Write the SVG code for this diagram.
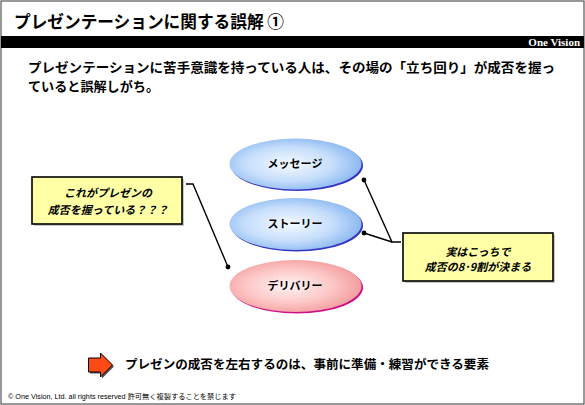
<svg xmlns="http://www.w3.org/2000/svg" width="585" height="405" viewBox="0 0 585 405">
<defs>
<radialGradient id="gb" cx="0.45" cy="0.5" r="0.6">
<stop offset="0" stop-color="#f4f9ff"/>
<stop offset="0.55" stop-color="#c6defb"/>
<stop offset="1" stop-color="#7fb0ef"/>
</radialGradient>
<radialGradient id="gp" cx="0.45" cy="0.5" r="0.6">
<stop offset="0" stop-color="#fff4f4"/>
<stop offset="0.55" stop-color="#fcc6c6"/>
<stop offset="1" stop-color="#f19595"/>
</radialGradient>
<marker id="dot" viewBox="0 0 6 6" refX="3" refY="3" markerWidth="6" markerHeight="6" markerUnits="userSpaceOnUse">
<circle cx="3" cy="3" r="2.4" fill="#000"/>
</marker>
</defs>
<style>
.jp{font-family:"Noto Sans CJK JP","Noto Sans CJK SC",sans-serif;font-weight:bold;fill:#000}
.node{font-size:11px;text-anchor:middle}
.call{font-size:11px;text-anchor:middle;font-style:italic}
.box{fill:#ffffa6;stroke:#000;stroke-width:1.6}
.shadow{fill:#c8c8c8}
.conn{fill:none;stroke:#000;stroke-width:1.4}
</style>
<rect x="0" y="0" width="585" height="405" fill="#fff"/>
<rect x="1" y="1" width="583" height="403" fill="none" stroke="#555" stroke-width="1.2"/>
<g id="header">
<text class="jp" x="14" y="28" font-size="17.5" textLength="270" lengthAdjust="spacingAndGlyphs">プレゼンテーションに関する誤解 ①</text>
<rect x="1" y="36" width="583" height="12" fill="#000"/>
<text x="580" y="46" font-family="Liberation Serif, serif" font-weight="bold" font-size="11" fill="#fff" text-anchor="end">One Vision</text>
</g>
<g id="intro">
<text class="jp" x="28" y="72" font-size="13" textLength="527" lengthAdjust="spacingAndGlyphs">プレゼンテーションに苦手意識を持っている人は、その場の「立ち回り」が成否を握っ</text>
<text class="jp" x="28" y="91" font-size="13" textLength="131" lengthAdjust="spacingAndGlyphs">ていると誤解しがち。</text>
</g>
<g id="connectors">
<polyline class="conn" points="186,184 193,184 228,267" marker-end="url(#dot)"/>
<polyline class="conn" points="401,242 392,242 364,180" marker-end="url(#dot)"/>
<polyline class="conn" points="392,242 364,233" marker-end="url(#dot)"/>
</g>
<g id="node-message">
<ellipse cx="297" cy="165.5" rx="66" ry="25.5" fill="#3535c0"/>
<ellipse cx="295.5" cy="164" rx="66" ry="25.5" fill="url(#gb)"/>
<text class="jp node" x="295" y="168">メッセージ</text>
</g>
<g id="node-story">
<ellipse cx="297" cy="225.5" rx="66" ry="26" fill="#3535c0"/>
<ellipse cx="295.5" cy="224" rx="66" ry="26" fill="url(#gb)"/>
<text class="jp node" x="295" y="228">ストーリー</text>
</g>
<g id="node-delivery">
<ellipse cx="297" cy="287.5" rx="66" ry="26" fill="#cc1188"/>
<ellipse cx="295.5" cy="286" rx="66" ry="26" fill="url(#gp)"/>
<text class="jp node" x="295" y="290">デリバリー</text>
</g>
<g id="callout-left">
<rect class="shadow" x="34" y="179" width="150" height="47"/>
<rect class="box" x="32" y="177" width="150" height="47"/>
<text class="jp call" x="108" y="197">これがプレゼンの</text>
<text class="jp call" x="108" y="214">成否を握っている？？？</text>
</g>
<g id="callout-right">
<rect class="shadow" x="405" y="235" width="150" height="48"/>
<rect class="box" x="403" y="233" width="150" height="48"/>
<text class="jp call" x="478" y="256" font-size="10">実はこっちで</text>
<text class="jp call" x="478" y="271" font-size="10">成否の8･9割が決まる</text>
</g>
<g id="conclusion">
<polygon points="88.5,358 100.5,358 100.5,353 112.5,365 100.5,377 100.5,372 88.5,372" fill="#555" transform="translate(1.5,1.5)"/>
<polygon points="88.5,358 100.5,358 100.5,353 112.5,365 100.5,377 100.5,372 88.5,372" fill="#ff4a14" stroke="#000" stroke-width="1"/>
<text class="jp" x="125" y="369" font-size="12.5" textLength="364" lengthAdjust="spacingAndGlyphs">プレゼンの成否を左右するのは、事前に準備・練習ができる要素</text>
</g>
<g id="footer">
<text x="8" y="399" font-family="Liberation Sans, 'Noto Sans CJK JP', sans-serif" font-size="7" fill="#000" textLength="228" lengthAdjust="spacingAndGlyphs">© One Vision, Ltd. all rights reserved  許可無く複製することを禁じます</text>
</g>
</svg>
